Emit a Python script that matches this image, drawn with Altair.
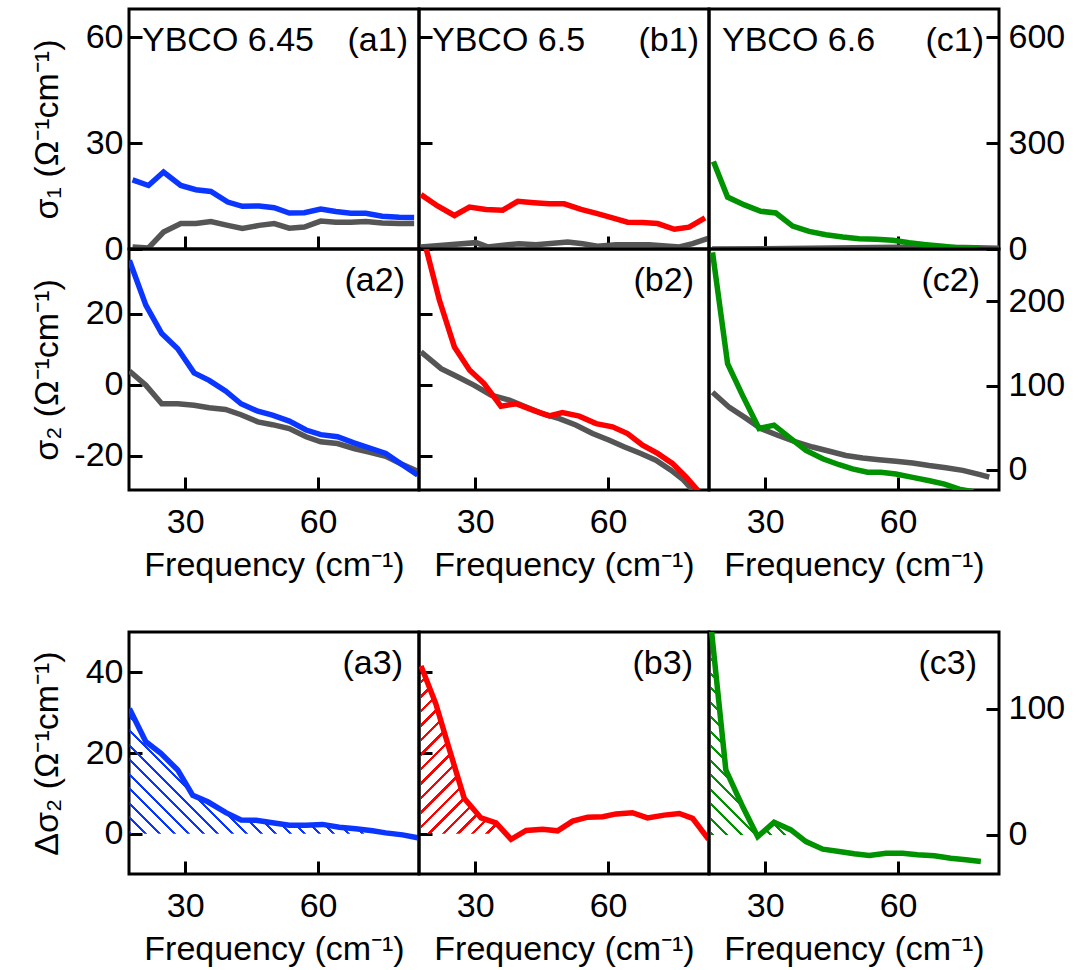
import altair as alt
import pandas as pd

# ---------------- data ----------------
# row 1: sigma_1
a1_freq = [18.1, 21.7, 25.1, 29.0, 32.4, 35.8, 39.6, 42.9, 46.7, 50.1, 53.5, 56.9, 60.6, 64.0, 67.4, 70.8, 74.5, 78.3, 81.7]
a1_sample = [19.6, 18.0, 21.8, 18.0, 16.8, 16.3, 13.3, 12.1, 12.2, 11.7, 10.2, 10.3, 11.3, 10.6, 10.1, 10.1, 9.3, 9.0, 8.9]
a1_ref = [0.6, 0.3, 4.8, 7.2, 7.2, 7.8, 6.7, 5.8, 6.7, 7.2, 5.9, 6.2, 7.9, 7.6, 7.6, 7.8, 7.4, 7.2, 7.2]

b1_freq = [17.75, 21.5, 25.3, 28.7, 32.4, 36.2, 39.6, 43.3, 46.7, 50.1, 53.9, 57.6, 61.0, 64.4, 67.8, 71.2, 75.0, 78.3, 81.9]
b1_sample = [15.4, 12.2, 9.5, 11.9, 11.2, 11.0, 13.5, 13.1, 12.8, 12.8, 11.2, 10.0, 8.8, 7.6, 7.5, 7.2, 5.6, 6.2, 8.8]
b1_ref_freq = [17.75, 24.1, 30.2, 32.8, 39.9, 43.7, 50.9, 54.3, 57.6, 61.8, 69.3, 76.1, 79.1, 82.8]
b1_ref = [0.6, 1.2, 1.8, 0.6, 1.5, 1.2, 2.0, 1.5, 0.8, 1.2, 1.2, 0.6, 1.5, 3.1]

c1_freq = [18.3, 21.5, 25.3, 29.0, 32.4, 36.2, 39.9, 43.7, 47.5, 51.2, 55.0, 58.8, 62.5, 66.3, 70.1, 73.8, 78.3]
c1_sample = [248, 147, 125, 107, 102, 65, 50, 40.5, 34, 29, 27.5, 24.6, 17.8, 12.2, 7.6, 2.8, 0]
c1_ref_freq = [18.0, 30.0, 45.0, 60.0, 75.0, 82.8]
c1_ref = [0, 1, 3, 5, 4, 2]

# row 2: sigma_2
a2_freq = [17.4, 21.1, 24.7, 28.3, 32.0, 35.4, 39.1, 42.6, 46.4, 49.7, 53.5, 57.3, 60.6, 64.4, 68.1, 71.5, 75.3, 78.7, 82.5]
a2_sample = [35.0, 22.4, 14.4, 10.1, 3.3, 1.2, -1.8, -5.4, -7.5, -8.6, -10.3, -12.8, -14.1, -14.7, -16.4, -17.8, -19.4, -22.3, -25.5]
a2_ref = [3.8, -0.2, -5.4, -5.4, -5.8, -6.5, -7.0, -8.5, -10.5, -11.3, -12.4, -14.7, -16.1, -16.6, -18.0, -19.0, -20.2, -22.3, -24.4]

b2_freq = [17.75, 21.9, 25.3, 28.7, 32.0, 35.8, 39.2, 43.0, 46.7, 49.7, 53.5, 57.3, 61.0, 64.4, 67.8, 71.2, 74.6, 77.6, 80.4]
b2_sample = [44.0, 23.8, 10.6, 4.1, 0.3, -6.1, -5.4, -7.2, -8.8, -7.9, -8.9, -11.0, -11.9, -13.8, -17.1, -19.4, -22.3, -26.0, -30.0]
b2_ref_freq = [17.75, 22.3, 26.0, 29.8, 33.6, 37.7, 41.5, 45.2, 49.0, 52.7, 56.5, 60.3, 63.6, 67.4, 70.8, 74.2, 76.8, 79.1]
b2_ref = [9.2, 4.5, 2.2, -0.2, -3.0, -4.4, -6.3, -8.2, -9.6, -11.4, -13.8, -15.7, -17.5, -19.4, -21.3, -24.1, -26.6, -29.7]

c2_freq = [18.1, 21.5, 24.9, 28.6, 32.0, 35.8, 39.2, 43.0, 46.7, 49.7, 53.1, 56.1, 59.5, 63.3, 67.1, 70.5, 73.8, 77.0]
c2_sample = [258, 126, 88, 49, 53, 37, 23, 13, 6, 1, -3, -3, -5, -9, -13, -17, -23, -26]
c2_ref_freq = [18.1, 21.9, 25.7, 29.0, 32.8, 36.9, 40.7, 44.5, 48.2, 52.0, 55.7, 59.5, 63.3, 67.0, 70.8, 74.6, 78.3, 80.6]
c2_ref = [92, 74, 61, 49, 41, 33, 27, 22, 17, 14, 12, 10, 8, 5, 2.4, -0.7, -5.5, -8.7]

# row 3: delta sigma_2
a3_freq = [17.4, 21.1, 24.5, 28.3, 31.7, 35.1, 39.2, 42.6, 46.0, 49.7, 53.5, 57.3, 61.0, 64.8, 68.5, 72.3, 75.3, 79.1, 82.5]
a3_diff = [31.0, 22.8, 19.9, 15.8, 9.5, 7.9, 5.2, 3.4, 3.3, 2.7, 2.1, 2.1, 2.3, 1.6, 1.2, 0.7, 0.2, -0.3, -1.0]

b3_freq = [17.75, 21.1, 24.1, 27.5, 31.3, 34.7, 38.1, 41.5, 45.2, 48.6, 52.0, 55.4, 58.8, 61.8, 65.5, 68.9, 72.7, 76.1, 79.1, 82.7]
b3_diff = [41.6, 32.2, 21.1, 8.8, 3.9, 2.7, -1.4, 0.8, 1.1, 0.7, 3.1, 4.1, 4.2, 4.9, 5.2, 3.9, 4.6, 5.0, 3.8, -1.4]

c3_freq = [17.75, 21.1, 24.9, 28.3, 32.0, 35.8, 39.2, 43.0, 46.7, 50.1, 53.5, 57.3, 61.0, 64.4, 68.2, 71.9, 75.3, 78.7]
c3_diff = [166, 51.6, 22.5, -1.4, 10.0, 4.0, -5.3, -11.3, -13.1, -15.0, -16.3, -14.5, -14.5, -15.7, -16.5, -18.5, -19.7, -21.0]

# hatched (integrated) range upper limits, cm^-1
hatch_limit = {"a3": 80.0, "b3": 35.0, "c3": 36.0}

sample_names = ["YBCO 6.45", "YBCO 6.5", "YBCO 6.6"]
panel_tags = [["(a1)", "(b1)", "(c1)"], ["(a2)", "(b2)", "(c2)"], ["(a3)", "(b3)", "(c3)"]]

x_domain = [17.3, 82.8]
x_ticks = [30, 60]
y_domains = [[[0, 68], [0, 68], [0, 680]],
             [[-29.7, 38.2], [-29.7, 38.2], [-24, 262]],
             [[-10, 50], [-10, 50], [-31, 161]]]
y_ticks = [[[0, 30, 60], [0, 30, 60], [0, 300, 600]],
           [[-20, 0, 20], [-20, 0, 20], [0, 100, 200]],
           [[0, 20, 40], [0, 20, 40], [0, 100]]]
y_titles = ["σ₁ (Ω⁻¹cm⁻¹)", "σ₂ (Ω⁻¹cm⁻¹)", "Δσ₂ (Ω⁻¹cm⁻¹)"]
x_title = "Frequency (cm⁻¹)"

# ---------------- style ----------------
FONT = "Liberation Sans"
FS = 34
PW = 290
ROW_H = [240, 241, 242]
GAP_H = 142
BLUE, RED, GREEN, GRAY = "#0a36ff", "#ff0000", "#009200", "#555555"
LW = 5.5
TICK = 13
HATCH_SPACING = 14.5
HATCH_FRAC = 0.22
tag_right = [[11, 10, 15], [14, 15, 19], [16, 16, 22]]
LABEL_EXPR = "'' + datum.value"


def y_axis(col, ticks, title):
    common = dict(values=ticks, offset=-TICK, tickSize=TICK, tickWidth=3, tickColor="black",
                  domain=False, grid=False, labelFont=FONT, labelFontSize=FS,
                  labelColor="black", labelFlush=False, labelExpr=LABEL_EXPR)
    if col == 0:
        return alt.Axis(orient="left", labelPadding=6, title=title, titleFont=FONT,
                        titleFontSize=FS, titleFontWeight="normal", titleColor="black",
                        titleX=-78, **common)
    if col == 1:
        return alt.Axis(orient="left", labels=False, title=None, **common)
    return alt.Axis(orient="right", labelPadding=9, title=None, **common)


def x_axis(show):
    common = dict(values=x_ticks, offset=-TICK, tickSize=TICK, tickWidth=3, tickColor="black",
                  domain=False, grid=False, labelFlush=False)
    if show:
        return alt.Axis(orient="bottom", labelFont=FONT, labelFontSize=FS, labelColor="black",
                        labelPadding=15, title=x_title, titleFont=FONT, titleFontSize=FS,
                        titleFontWeight="normal", titleColor="black", titleY=71, **common)
    return alt.Axis(orient="bottom", labels=False, title=None, **common)


def hatch_fill(color, w_px, h_px, direction):
    k = (w_px + h_px) / (w_px ** 2 + h_px ** 2)
    if direction == "back":
        x1, y1, x2, y2 = 0, 1, k * w_px, 1 - k * h_px
    else:
        x1, y1, x2, y2 = 0, 0, k * w_px, k * h_px
    step = HATCH_SPACING / (w_px + h_px)
    clear = "rgba(255,255,255,0)"
    stops = []
    t = 0.0
    while t < 1:
        a = t
        b = min(t + step * HATCH_FRAC, 1.0)
        c = min(t + step, 1.0)
        stops += [{"offset": a, "color": color}, {"offset": b, "color": color},
                  {"offset": b, "color": clear}, {"offset": c, "color": clear}]
        t += step
    return {"gradient": "linear", "x1": x1, "y1": y1, "x2": x2, "y2": y2, "stops": stops}


def panel(r, c, lines, hatch=None):
    h = ROW_H[r]
    ydom = y_domains[r][c]
    xs = alt.Scale(domain=x_domain, nice=False, zero=False)
    ys = alt.Scale(domain=ydom, nice=False, zero=False)
    xa = x_axis(r > 0)
    ya = y_axis(c, y_ticks[r][c], y_titles[r] if c == 0 else None)
    layers = []
    if hatch is not None:
        hf, hv, color, direction = hatch
        kx = PW / (x_domain[1] - x_domain[0])
        ky = h / (ydom[1] - ydom[0])
        w_px = (max(hf) - min(hf)) * kx
        h_px = max(hv) * ky
        dfh = pd.DataFrame({"f": hf, "v": hv})
        layers.append(
            alt.Chart(dfh).mark_area(clip=True, fill=hatch_fill(color, w_px, h_px, direction))
            .encode(x=alt.X("f:Q", scale=xs, axis=xa), y=alt.Y("v:Q", scale=ys, axis=ya),
                    y2=alt.datum(0))
        )
    for f, v, color in lines:
        df = pd.DataFrame({"f": f, "v": v})
        layers.append(
            alt.Chart(df).mark_line(color=color, strokeWidth=LW, clip=True)
            .encode(x=alt.X("f:Q", scale=xs, axis=xa), y=alt.Y("v:Q", scale=ys, axis=ya))
        )
    tag = pd.DataFrame({"t": [panel_tags[r][c]]})
    layers.append(
        alt.Chart(tag).mark_text(font=FONT, fontSize=FS, align="right", baseline="alphabetic",
                                 color="black")
        .encode(text="t:N", x=alt.value(PW - tag_right[r][c]), y=alt.value(42))
    )
    if r == 0:
        nm = pd.DataFrame({"t": [sample_names[c]]})
        layers.append(
            alt.Chart(nm).mark_text(font=FONT, fontSize=FS, align="left", baseline="alphabetic",
                                    color="black")
            .encode(text="t:N", x=alt.value(13), y=alt.value(42))
        )
    return alt.layer(*layers).properties(width=PW, height=h)


def clip_pos(f, v, limit):
    hf, hv = [], []
    for fi, vi in zip(f, v):
        if fi <= limit:
            hf.append(fi)
            hv.append(max(vi, 0))
    return hf, hv


def spacer():
    return alt.Chart(pd.DataFrame({"f": [0]}), view=alt.ViewBackground(strokeOpacity=0)).mark_point(opacity=0).encode(
        x=alt.X("f:Q", axis=None), y=alt.Y("f:Q", axis=None)
    ).properties(width=PW, height=GAP_H)


a3_hf, a3_hv = clip_pos(a3_freq, a3_diff, hatch_limit["a3"])
b3_hf, b3_hv = clip_pos(b3_freq, b3_diff, hatch_limit["b3"])
c3_hf, c3_hv = clip_pos(c3_freq, c3_diff, hatch_limit["c3"])

cells = [
    panel(0, 0, [(a1_freq, a1_ref, GRAY), (a1_freq, a1_sample, BLUE)]),
    panel(0, 1, [(b1_ref_freq, b1_ref, GRAY), (b1_freq, b1_sample, RED)]),
    panel(0, 2, [(c1_ref_freq, c1_ref, GRAY), (c1_freq, c1_sample, GREEN)]),
    panel(1, 0, [(a2_freq, a2_ref, GRAY), (a2_freq, a2_sample, BLUE)]),
    panel(1, 1, [(b2_ref_freq, b2_ref, GRAY), (b2_freq, b2_sample, RED)]),
    panel(1, 2, [(c2_ref_freq, c2_ref, GRAY), (c2_freq, c2_sample, GREEN)]),
    spacer(), spacer(), spacer(),
    panel(2, 0, [(a3_freq, a3_diff, BLUE)], hatch=(a3_hf, a3_hv, BLUE, "back")),
    panel(2, 1, [(b3_freq, b3_diff, RED)], hatch=(b3_hf, b3_hv, RED, "fwd")),
    panel(2, 2, [(c3_freq, c3_diff, GREEN)], hatch=(c3_hf, c3_hv, GREEN, "back")),
]

chart = alt.concat(*cells, columns=3, spacing=0, bounds="flush").properties(
    padding={"left": 28, "top": 7, "right": 0, "bottom": 12}
).configure(background="white").configure_view(stroke="black", strokeWidth=3)

chart.save("out.html", embed_options={"renderer": "svg", "actions": False})
